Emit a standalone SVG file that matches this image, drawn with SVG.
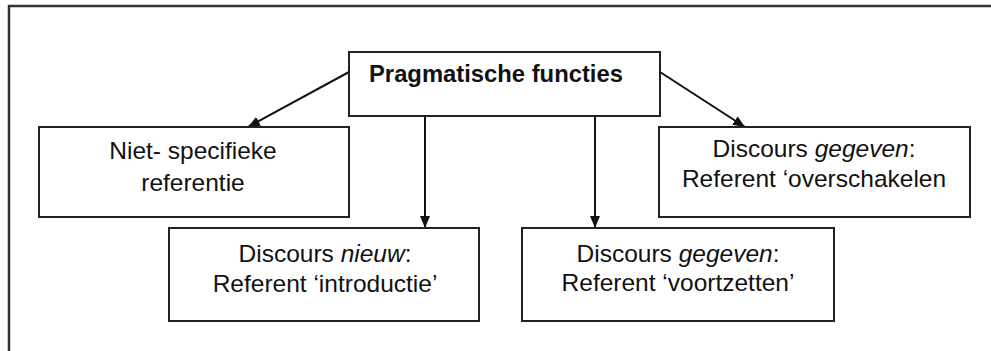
<svg xmlns="http://www.w3.org/2000/svg" width="991" height="351" viewBox="0 0 991 351">
<defs>
<style>
.box{fill:#fff;stroke:#222;stroke-width:2}
.t{font-family:"Liberation Sans",Arial,sans-serif;font-size:24.5px;fill:#111;text-anchor:middle}
.b{font-weight:bold;font-size:23.8px;text-anchor:start}
.c{stroke:#111;stroke-width:2;fill:none;marker-end:url(#ah)}
</style>
<marker id="ah" viewBox="0 0 12 10" refX="12" refY="5" markerWidth="12" markerHeight="10" markerUnits="userSpaceOnUse" orient="auto">
<path d="M0,0 L12,5 L0,10 Z" fill="#111"/>
</marker>
</defs>
<rect width="991" height="351" fill="#fff"/>
<path d="M9,351 V6 H991" fill="none" stroke="#333" stroke-width="2.5"/>
<g id="connectors">
<line class="c" x1="349" y1="72" x2="248" y2="127"/>
<line class="c" x1="660" y1="72" x2="745" y2="127"/>
<line class="c" x1="425" y1="116" x2="425" y2="228"/>
<line class="c" x1="595" y1="116" x2="595" y2="228"/>
</g>
<g id="n_top">
<rect class="box" x="349" y="52" width="311" height="64"/>
<text class="t b" x="369" y="82">Pragmatische functies</text>
</g>
<g id="n_niet">
<rect class="box" x="39" y="127" width="310" height="90"/>
<text class="t" x="193" y="159">Niet- specifieke</text>
<text class="t" x="193" y="191">referentie</text>
</g>
<g id="n_nieuw">
<rect class="box" x="169" y="228" width="310" height="93"/>
<text class="t" x="325" y="262">Discours <tspan font-style="italic">nieuw</tspan>:</text>
<text class="t" x="325" y="292">Referent ‘introductie’</text>
</g>
<g id="n_voort">
<rect class="box" x="522" y="228" width="312" height="93"/>
<text class="t" x="678" y="262">Discours <tspan font-style="italic">gegeven</tspan>:</text>
<text class="t" x="678" y="291">Referent ‘voortzetten’</text>
</g>
<g id="n_over">
<rect class="box" x="659" y="127" width="311" height="90"/>
<text class="t" x="814" y="157">Discours <tspan font-style="italic">gegeven</tspan>:</text>
<text class="t" x="814" y="187">Referent ‘overschakelen</text>
</g>
</svg>
